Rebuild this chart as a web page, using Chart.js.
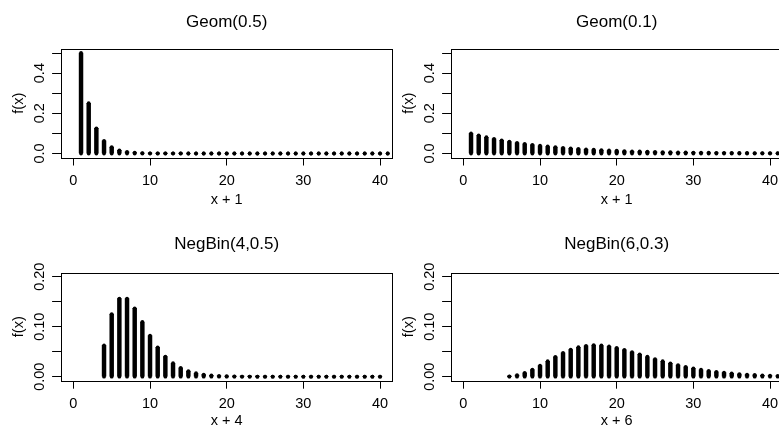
<!DOCTYPE html>
<html>
<head>
<meta charset="utf-8">
<script src="https://cdn.jsdelivr.net/npm/chart.js@4.4.0/dist/chart.umd.min.js"></script>
<style>
  html, body { margin: 0; padding: 0; background: #fff; }
  body { width: 779px; height: 430px; overflow: hidden; position: relative; }
  .panel { position: absolute; width: 400px; height: 225px; }
</style>
</head>
<body>
<div class="panel" style="left:0;top:0"><canvas id="p1" width="400" height="225"></canvas></div>
<div class="panel" style="left:390px;top:0"><canvas id="p2" width="400" height="225"></canvas></div>
<div class="panel" style="left:0;top:215px"><canvas id="p3" width="400" height="225"></canvas></div>
<div class="panel" style="left:390px;top:215px"><canvas id="p4" width="400" height="225"></canvas></div>
<script>
// --- data ---
const geomX = [1, 2, 3, 4, 5, 6, 7, 8, 9, 10, 11, 12, 13, 14, 15, 16, 17, 18, 19, 20,
  21, 22, 23, 24, 25, 26, 27, 28, 29, 30, 31, 32, 33, 34, 35, 36, 37, 38, 39, 40, 41];
const geom05 = [0.5, 0.25, 0.125, 0.0625, 0.0313, 0.0156, 0.0078, 0.0039, 0.002, 0.001,
  0.0005, 0.0002, 0.0001, 0.0001, 0, 0, 0, 0, 0, 0,
  0, 0, 0, 0, 0, 0, 0, 0, 0, 0, 0, 0, 0, 0, 0, 0, 0, 0, 0, 0, 0];
const geom01 = [0.1, 0.09, 0.081, 0.0729, 0.0656, 0.059, 0.0531, 0.0478, 0.043, 0.0387,
  0.0349, 0.0314, 0.0282, 0.0254, 0.0229, 0.0206, 0.0185, 0.0167, 0.015, 0.0135,
  0.0122, 0.0109, 0.0098, 0.0089, 0.008, 0.0072, 0.0065, 0.0058, 0.0052, 0.0047,
  0.0042, 0.0038, 0.0034, 0.0031, 0.0028, 0.0025, 0.0023, 0.002, 0.0018, 0.0016, 0.0015];
const nb4X = [4, 5, 6, 7, 8, 9, 10, 11, 12, 13, 14, 15, 16, 17, 18, 19, 20, 21, 22, 23,
  24, 25, 26, 27, 28, 29, 30, 31, 32, 33, 34, 35, 36, 37, 38, 39, 40];
const nb4 = [0.0625, 0.125, 0.1563, 0.1563, 0.1367, 0.1094, 0.082, 0.0586, 0.0403, 0.0269,
  0.0175, 0.0111, 0.0069, 0.0043, 0.0026, 0.0016, 0.0009, 0.0005, 0.0003, 0.0002,
  0.0001, 0, 0, 0, 0, 0, 0, 0, 0, 0, 0, 0, 0, 0, 0, 0, 0];
const nb6X = [6, 7, 8, 9, 10, 11, 12, 13, 14, 15, 16, 17, 18, 19, 20, 21, 22, 23, 24, 25,
  26, 27, 28, 29, 30, 31, 32, 33, 34, 35, 36, 37, 38, 39, 40, 41];
const nb6 = [0.0007, 0.0031, 0.0075, 0.014, 0.0221, 0.0309, 0.0396, 0.0475, 0.0541, 0.0589,
  0.0618, 0.063, 0.0624, 0.0605, 0.0575, 0.0537, 0.0493, 0.0447, 0.0399, 0.0353,
  0.0309, 0.0268, 0.023, 0.0196, 0.0166, 0.0139, 0.0116, 0.0096, 0.008, 0.0065,
  0.0053, 0.0043, 0.0035, 0.0028, 0.0023, 0.0018];

const xTicks = [0, 10, 20, 30, 40];
const geomYTicks = [0, 0.1, 0.2, 0.3, 0.4, 0.5];
const geomYLabelValues = [0, 0.2, 0.4];
const geomYLabels = ['0.0', '0.2', '0.4'];
const nbYTicks = [0, 0.05, 0.1, 0.15, 0.2];
const nbYLabelValues = [0, 0.1, 0.2];
const nbYLabels = ['0.00', '0.10', '0.20'];

const FONT = "'Liberation Sans', Arial, Helvetica, sans-serif";
const STEM = 3.8; // line width of the stems

Chart.defaults.font.family = FONT;
Chart.defaults.color = '#000';

// R-like frame around the plot region and vertical y tick labels
const rFrame = {
  id: 'rFrame',
  afterDraw(chart, args, opts) {
    const ctx = chart.ctx;
    const a = chart.chartArea;
    ctx.save();
    ctx.strokeStyle = '#000';
    ctx.lineWidth = 1;
    ctx.strokeRect(Math.round(a.left) + 0.5, Math.round(a.top) + 0.5,
      Math.round(a.right - a.left), Math.round(a.bottom - a.top));

    const y = chart.scales.y;
    ctx.fillStyle = '#000';
    ctx.font = '14.5px ' + FONT;
    ctx.textAlign = 'center';
    ctx.textBaseline = 'alphabetic';
    opts.values.forEach((v, i) => {
      ctx.save();
      ctx.translate(44, y.getPixelForValue(v));
      ctx.rotate(-Math.PI / 2);
      ctx.fillText(opts.labels[i], 0, 0);
      ctx.restore();
    });
    ctx.restore();
  }
};

function makePanel(id, p) {
  const bars = p.xs.map((x, i) => ({ x: x, y: p.ys[i] }));
  const caps = p.xs.map((x, i) => ({ x: x, y: p.ys[i] }));
  const feet = p.xs.map(x => ({ x: x, y: 0 }));

  new Chart(document.getElementById(id), {
    type: 'bar',
    data: {
      datasets: [
        { data: bars, backgroundColor: '#000', borderWidth: 0, barThickness: STEM },
        { type: 'scatter', data: caps, pointRadius: STEM / 2, pointBorderWidth: 0, pointBackgroundColor: '#000' },
        { type: 'scatter', data: feet, pointRadius: STEM / 2, pointBorderWidth: 0, pointBackgroundColor: '#000' }
      ]
    },
    options: {
      responsive: false,
      devicePixelRatio: 1,
      animation: false,
      events: [],
      layout: { padding: { left: 0, right: 7.7, top: 0, bottom: p.padBottom } },
      plugins: {
        legend: { display: false },
        tooltip: { enabled: false },
        title: {
          display: true,
          text: p.title,
          fullSize: false,
          font: { size: 17, weight: 'normal' },
          color: '#000',
          padding: p.titlePad
        },
        rFrame: { values: p.yLabelValues, labels: p.yLabels }
      },
      scales: {
        x: {
          type: 'linear',
          min: -1.6,
          max: 41.6,
          offset: false,
          afterBuildTicks: s => { s.ticks = xTicks.map(v => ({ value: v })); },
          afterFit: s => { s.height = 53.1; },
          grid: { drawOnChartArea: false, drawTicks: true, tickLength: 8, color: '#000', offset: false },
          border: { display: false },
          ticks: { font: { size: 14.5 }, padding: 7, maxRotation: 0, autoSkip: false },
          title: { display: true, text: p.xLabel, font: { size: 14.5 }, padding: { top: 0, bottom: p.xTitlePad } }
        },
        y: {
          type: 'linear',
          min: p.yMin,
          max: p.yMax,
          afterBuildTicks: s => { s.ticks = p.yTicks.map(v => ({ value: v })); },
          afterFit: s => { s.width = 61.1; },
          grid: { drawOnChartArea: false, drawTicks: true, tickLength: 9, color: '#000' },
          border: { display: false },
          ticks: { display: false },
          title: { display: true, text: 'f(x)', font: { size: 14.5 }, padding: { top: 10, bottom: 0 } }
        }
      }
    },
    plugins: [rFrame]
  });
}

makePanel('p1', { title: 'Geom(0.5)', xLabel: 'x + 1', xs: geomX, ys: geom05,
  yMin: -0.02, yMax: 0.52, yTicks: geomYTicks, yLabelValues: geomYLabelValues, yLabels: geomYLabels,
  titlePad: { top: 12, bottom: 16.6 }, padBottom: 14.4, xTitlePad: 2 });
makePanel('p2', { title: 'Geom(0.1)', xLabel: 'x + 1', xs: geomX, ys: geom01,
  yMin: -0.02, yMax: 0.52, yTicks: geomYTicks, yLabelValues: geomYLabelValues, yLabels: geomYLabels,
  titlePad: { top: 12, bottom: 16.6 }, padBottom: 14.4, xTitlePad: 2 });
makePanel('p3', { title: 'NegBin(4,0.5)', xLabel: 'x + 4', xs: nb4X, ys: nb4,
  yMin: -0.008, yMax: 0.208, yTicks: nbYTicks, yLabelValues: nbYLabelValues, yLabels: nbYLabels,
  titlePad: { top: 18.8, bottom: 18.5 }, padBottom: 6.2, xTitlePad: 4 });
makePanel('p4', { title: 'NegBin(6,0.3)', xLabel: 'x + 6', xs: nb6X, ys: nb6,
  yMin: -0.008, yMax: 0.208, yTicks: nbYTicks, yLabelValues: nbYLabelValues, yLabels: nbYLabels,
  titlePad: { top: 18.8, bottom: 18.5 }, padBottom: 6.2, xTitlePad: 4 });
</script>
</body>
</html>
